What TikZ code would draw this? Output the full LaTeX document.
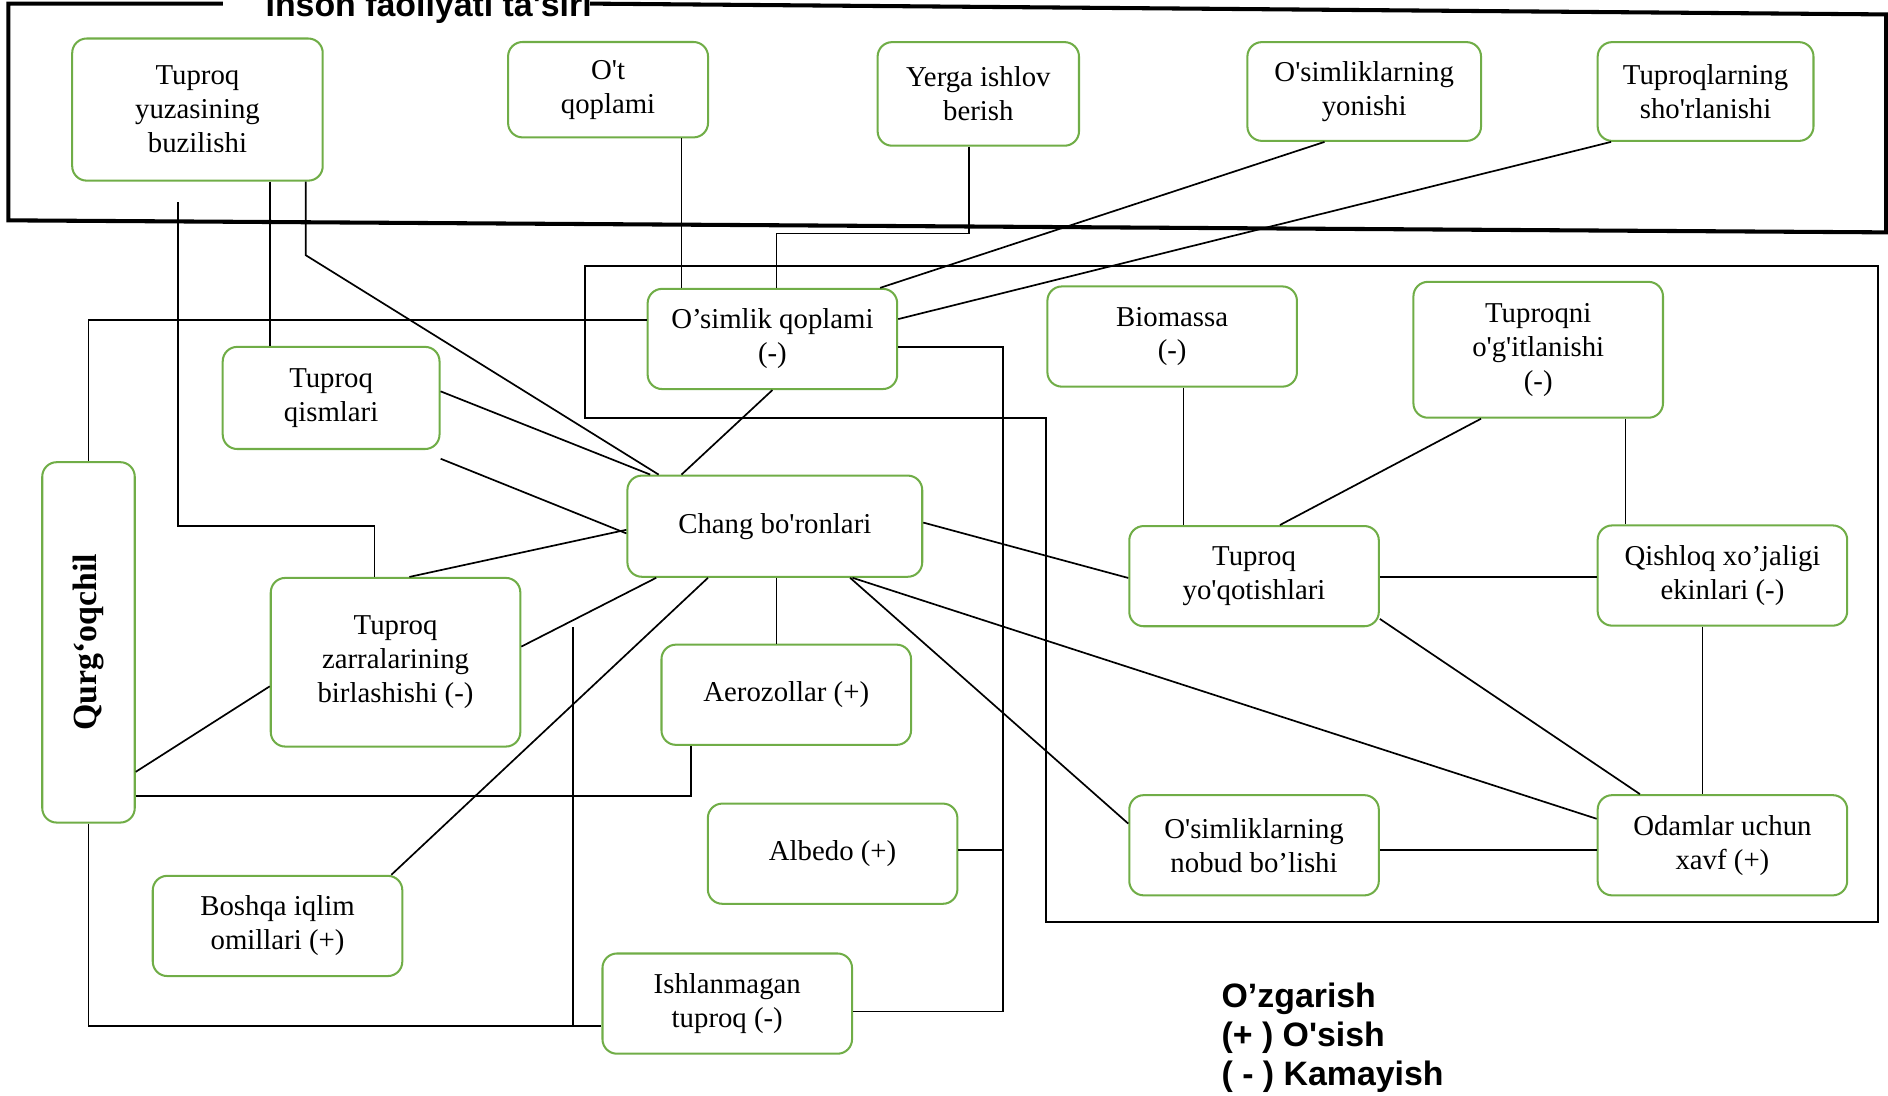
\documentclass[tikz,border=0pt]{standalone}
\usepackage{fontspec}
\setmainfont{Liberation Serif}
\setsansfont{Liberation Sans}
\definecolor{boxgreen}{RGB}{112,173,71}
\newcommand{\apos}{\textquotesingle}
\begin{document}
\begin{tikzpicture}[x=0.0125cm, y=-0.0125cm,
	box/.style={draw=boxgreen, line width=0.6pt, rounded corners=0.15cm, align=center, minimum width=2.59cm, minimum height=1.04cm, inner sep=1pt, font=\fontsize{8.5}{10}\selectfont},
	link/.style={line width=0.5pt},
	frame/.style={line width=1.2pt},
	inner/.style={line width=0.6pt},
	ttl/.style={font=\fontsize{10}{12}\selectfont\sffamily\bfseries, inner sep=0pt},
	legend/.style={font=\fontsize{10}{11.5}\selectfont\sffamily\bfseries, align=left, inner sep=0pt}]
	\useasboundingbox (0,0) rectangle (1568,910);
	\clip (0,0) rectangle (1568,910);
	\node[ttl, anchor=base] (title) at (356,14) {Inson faoliyati ta\apos siri};
	\draw[frame] (185,3) -- (7,3) -- (7,183) -- (1568,193);
	\draw[frame] (490,3) -- (1568,12);
	\draw[frame] (1566,12) -- (1566,193);
	\draw[inner] (486,347) -- (486,221) -- (1560,221) -- (1560,766) -- (869,766) -- (869,347) -- cycle;
	\node[box, minimum width=2.6cm, minimum height=1.475cm] (tyb) at (164,91) {Tuproq\\yuzasining\\buzilishi};
	\node[box, minimum width=2.075cm, minimum height=0.99cm] (otq) at (505,74.5) {O\apos t\\qoplami};
	\node[box, minimum width=2.09cm, minimum height=1.075cm] (yib) at (812.5,78) {Yerga ishlov\\berish};
	\node[box, minimum width=2.425cm, minimum height=1.025cm] (osy) at (1133,76) {O\apos simliklarning\\yonishi};
	\node[box, minimum width=2.24cm, minimum height=1.025cm] (tsh) at (1416.5,76) {Tuproqlarning\\sho\apos rlanishi};
	\node[box] (osq) at (641.5,281.5) {O’simlik qoplami\\(-)};
	\node[box] (bio) at (973.5,279.5) {Biomassa\\(-)};
	\node[box, minimum height=1.41cm] (tog) at (1277.5,290.5) {Tuproqni\\o\apos g\apos itlanishi\\(-)};
	\node[box, minimum width=2.25cm, minimum height=1.06cm] (tqi) at (275,330.5) {Tuproq\\qismlari};
	\node[box, minimum width=0.96cm, minimum height=3.74cm] (qur) at (73.5,533.5) {\rotatebox{90}{\fontsize{10}{12}\selectfont\bfseries Qurg`oqchil}};
	\node[box, minimum width=3.06cm, minimum height=1.05cm] (cha) at (643.5,437) {Chang bo\apos ronlari};
	\node[box] (tyo) at (1041.5,478.5) {Tuproq\\yo\apos qotishlari};
	\node[box] (qxe) at (1430.5,478) {Qishloq xo’jaligi\\ekinlari (-)};
	\node[box, minimum height=1.75cm] (tzb) at (328.5,550) {Tuproq\\zarralarining\\birlashishi (-)};
	\node[box] (aer) at (653,577) {Aerozollar (+)};
	\node[box] (alb) at (691.5,709) {Albedo (+)};
	\node[box] (onb) at (1041.5,702) {O\apos simliklarning\\nobud bo’lishi};
	\node[box] (oux) at (1430.5,702) {Odamlar uchun\\xavf (+)};
	\node[box] (biq) at (230.5,769) {Boshqa iqlim\\omillari (+)};
	\node[box] (ist) at (604,833.5) {Ishlanmagan\\tuproq (-)};
	\node[legend, anchor=west] (lgd) at (1014,862) {O’zgarish\\(+ ) O\apos sish\\( - ) Kamayish};
	\coordinate (tybfree) at (148,168);
	\coordinate (tqifree) at (366,381);
	\coordinate (busfree) at (476,521);
	\draw[link] (tybfree) |- (311,437) -- (tzb.north -| 311,0);
	\draw[link] (tyb.south -| 224,0) -- (tqi.north -| 224,0);
	\draw[link] (tyb.south -| 254,0) -- (254,212) -- (cha.north -| 547,0);
	\draw[link] (otq.south -| 566,0) -- (osq.north -| 566,0);
	\draw[link] (yib.south -| 805,0) |- (645,194) -- (osq.north -| 645,0);
	\draw[link] (osy.south -| 1100,0) -- (osq.north -| 731,0);
	\draw[link] (tsh.south -| 1338,0) -- (osq.east |- 0,265);
	\draw[link] (osq.west |- 0,266) -| (qur.north);
	\draw[link] (osq.east |- 0,288) -| (833,840) -- (ist.east |- 0,840);
	\draw[link] (alb.east |- 0,706) -- (833,706);
	\draw[link] (osq.south) -- (cha.north -| 566,0);
	\draw[link] (tqi.east |- 0,325) -- (cha.north -| 540,0);
	\draw[link] (tqifree) -- (cha.west |- 0,443);
	\draw[link] (tzb.north -| 340,0) -- (cha.west |- 0,440);
	\draw[link] (tzb.east |- 0,537) -- (cha.south -| 545,0);
	\draw[link] (cha.south -| 588,0) -- (biq.north -| 325,0);
	\draw[link] (cha.south -| 645,0) -- (aer.north -| 645,0);
	\draw[link] (cha.south -| 706,0) -- (onb.west |- 0,684);
	\draw[link] (cha.south -| 708,0) -- (oux.west |- 0,680);
	\draw[link] (cha.east |- 0,434) -- (tyo.west |- 0,480);
	\draw[link] (qur.east |- 0,641) -- (tzb.west |- 0,570);
	\draw[link] (qur.east |- 0,661) -| (aer.south -| 574,0);
	\draw[link] (qur.south) |- (ist.west |- 0,852);
	\draw[link] (busfree) -- (476,852);
	\draw[link] (bio.south -| 983,0) -- (tyo.north -| 983,0);
	\draw[link] (tog.south -| 1230,0) -- (tyo.north -| 1063,0);
	\draw[link] (tog.south -| 1350,0) -- (qxe.north -| 1350,0);
	\draw[link] (tyo.east |- 0,479) -- (qxe.west |- 0,479);
	\draw[link] (tyo.east |- 0,514) -- (oux.north -| 1362,0);
	\draw[link] (qxe.south -| 1414,0) -- (oux.north -| 1414,0);
	\draw[link] (onb.east |- 0,706) -- (oux.west |- 0,706);
\end{tikzpicture}
\end{document}
